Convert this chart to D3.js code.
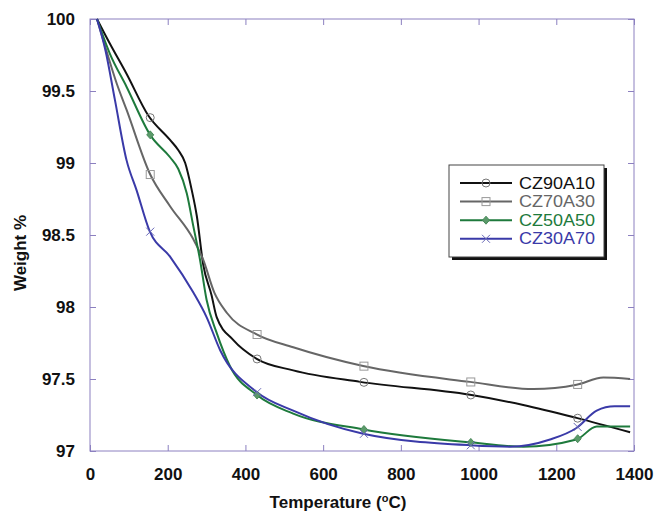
<!DOCTYPE html>
<html><head><meta charset="utf-8">
<script src="https://cdn.jsdelivr.net/npm/d3@7"></script>
<style>body{margin:0;background:#fff}svg{display:block}text{font-family:"Liberation Sans",Arial,sans-serif}</style>
</head><body><svg id="c" width="654" height="513"></svg>
<script>
const seriesNames = ["CZ90A10","CZ70A30","CZ50A50","CZ30A70"];
const seriesColors = ["#111111","#666666","#1e7a3c","#3a3aa8"];
const markerTemps = [155,430,705,980,1255];
const xTicks = [0,200,400,600,800,1000,1200,1400];
const yTicks = [97,97.5,98,98.5,99,99.5,100];

const cz90a10 = [[18,100],[51,99.83],[94,99.62],[150,99.33],[206,99.16],[227,99.09],[245,99.0],[262,98.81],[275,98.63],[291,98.3],[313,98.08],[326,97.93],[369,97.77],[429,97.64],[523,97.56],[695,97.48],[978,97.39],[1115,97.32],[1252,97.23],[1390,97.13]];
const cz70a30 = [[18,100],[40,99.8],[69,99.55],[94,99.37],[155,98.92],[206,98.70],[266,98.47],[291,98.33],[320,98.1],[352,97.96],[429,97.81],[523,97.72],[703,97.59],[978,97.48],[1141,97.43],[1252,97.46],[1321,97.51],[1390,97.50]];
const cz50a50 = [[18,100],[51,99.76],[94,99.53],[156,99.19],[206,99.04],[227,98.96],[249,98.79],[266,98.56],[283,98.33],[300,98.05],[326,97.82],[360,97.59],[429,97.39],[523,97.26],[703,97.15],[978,97.06],[1115,97.03],[1252,97.08],[1304,97.17],[1390,97.17]];
const cz30a70 = [[18,100],[40,99.78],[64,99.44],[94,99.02],[120,98.81],[153,98.53],[206,98.35],[266,98.1],[300,97.93],[335,97.70],[429,97.41],[523,97.28],[703,97.12],[978,97.04],[1081,97.03],[1184,97.08],[1252,97.16],[1304,97.28],[1350,97.31],[1390,97.31]];
const seriesData = [cz90a10,cz70a30,cz50a50,cz30a70];

const svg = d3.select("#c");
const x = d3.scaleLinear().domain([0,1400]).range([90,634]);
const y = d3.scaleLinear().domain([97,100]).range([451,19]);
const axisColor = "#8c80c0";
const FONT = "'Liberation Sans',Arial,sans-serif";

svg.append("rect").attr("x",90).attr("y",19).attr("width",544).attr("height",432)
  .attr("fill","none").attr("stroke",axisColor).attr("stroke-width",1);

const gx = svg.append("g").attr("transform","translate(0,451)")
  .call(d3.axisBottom(x).tickValues(xTicks).tickSizeInner(-6).tickSizeOuter(0).tickPadding(17).tickFormat(d3.format("d")));
const gxt = svg.append("g").attr("transform","translate(0,19)")
  .call(d3.axisTop(x).tickValues(xTicks).tickSizeInner(-6).tickSizeOuter(0).tickFormat(""));
const gy = svg.append("g").attr("transform","translate(90,0)")
  .call(d3.axisLeft(y).tickValues(yTicks).tickSizeInner(-6).tickSizeOuter(0).tickPadding(15).tickFormat(d=>String(d)));
const gyr = svg.append("g").attr("transform","translate(634,0)")
  .call(d3.axisRight(y).tickValues(yTicks).tickSizeInner(-6).tickSizeOuter(0).tickFormat(""));
[gx,gxt,gy,gyr].forEach(g=>{
  g.select(".domain").remove();
  g.selectAll(".tick line").attr("stroke",axisColor);
  g.selectAll("text").attr("fill","#111").style("font-size","17px").style("font-weight","bold").style("font-family",FONT);
});

svg.append("text").attr("x",338).attr("y",508).attr("text-anchor","middle")
  .style("font-size","17px").style("font-weight","bold").attr("fill","#111")
  .html('Temperature (<tspan baseline-shift="super" font-size="11">o</tspan>C)');
svg.append("text").attr("transform","translate(26,253) rotate(-90)").attr("text-anchor","middle")
  .style("font-size","17px").style("font-weight","bold").attr("fill","#111").text("Weight %");

const line = d3.line().x(d=>x(d[0])).y(d=>y(d[1])).curve(d3.curveMonotoneX);

function interp(data,t){
  for(let i=0;i<data.length-1;i++){
    if(t>=data[i][0]&&t<=data[i+1][0]){
      const f=(t-data[i][0])/(data[i+1][0]-data[i][0]);
      return data[i][1]+f*(data[i+1][1]-data[i][1]);
    }
  }
  return data[data.length-1][1];
}

function drawMarker(g,i,cx,cy){
  if(i===0) g.append("circle").attr("cx",cx).attr("cy",cy).attr("r",4).attr("fill","none").attr("stroke","#777").attr("stroke-width",1);
  else if(i===1) g.append("rect").attr("x",cx-4).attr("y",cy-4).attr("width",8).attr("height",8).attr("fill","none").attr("stroke","#999").attr("stroke-width",1);
  else if(i===2) g.append("path").attr("d",`M${cx},${cy-4}L${cx+3.5},${cy}L${cx},${cy+4}L${cx-3.5},${cy}Z`).attr("fill","#5a9a6a").attr("stroke","#4a8a5a").attr("stroke-width",1);
  else g.append("path").attr("d",`M${cx-4},${cy-4}L${cx+4},${cy+4}M${cx-4},${cy+4}L${cx+4},${cy-4}`).attr("stroke","#6a6ab8").attr("stroke-width",1);
}

seriesData.forEach((data,i)=>{
  svg.append("path").datum(data).attr("d",line).attr("fill","none")
    .attr("stroke",seriesColors[i]).attr("stroke-width",2);
});
seriesData.forEach((data,i)=>{
  const g = svg.append("g");
  markerTemps.forEach(t=>drawMarker(g,i,x(t),y(interp(data,t))));
});

// legend
const lg = svg.append("g");
lg.append("rect").attr("x",452).attr("y",168).attr("width",155).attr("height",92).attr("fill","#111");
lg.append("rect").attr("x",449).attr("y",165).attr("width",155).attr("height",92).attr("fill","#fff").attr("stroke","#444").attr("stroke-width",1);
seriesNames.forEach((n,i)=>{
  const yy = 183 + i*18.6;
  lg.append("line").attr("x1",460).attr("x2",512).attr("y1",yy).attr("y2",yy).attr("stroke",seriesColors[i]).attr("stroke-width",2);
  drawMarker(lg,i,486,yy);
  lg.append("text").attr("x",519).attr("y",yy+5.5).attr("fill",seriesColors[i])
    .attr("textLength",76).attr("lengthAdjust","spacingAndGlyphs")
    .style("font-size","16px").text(n);
});
</script></body></html>
